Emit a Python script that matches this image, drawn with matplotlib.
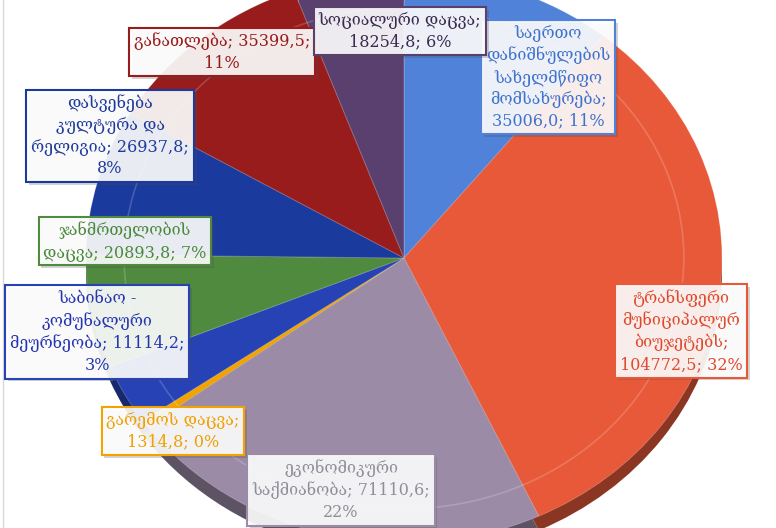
import numpy as np
import matplotlib.pyplot as plt
import matplotlib.patheffects as pe
from matplotlib.colors import to_rgb

plt.rcParams['font.family'] = ['DejaVu Serif', 'DejaVu Sans']

# მონაცემები (ათასი ლარი)
names = ['საერთო\nდანიშნულების\nსახელმწიფო\nმომსახურება;',
         'ტრანსფერი\nმუნიციპალურ\nბიუჯეტებს;',
         'ეკონომიკური\nსაქმიანობა;',
         'გარემოს დაცვა;',
         'საბინაო -\nკომუნალური\nმეურნეობა;',
         'ჯანმრთელობის\nდაცვა;',
         'დასვენება\nკულტურა და\nრელიგია;',
         'განათლება;',
         'სოციალური დაცვა;']
values = [35006.0, 104772.5, 71110.6, 1314.8, 11114.2, 20893.8, 26937.8, 35399.5, 18254.8]
# პროცენტები ისე, როგორც დიაგრამაზეა
pct_labels = ['11%', '32%', '22%', '0%', '3%', '7%', '8%', '11%', '6%']
colors = ['#4f82d8', '#e8593a', '#9c8ba7', '#f2a300', '#2642b4',
          '#4f8a3f', '#1b3a9e', '#981c1c', '#5a406e']
text_colors = ['#3f72cc', '#e04a2c', '#8f8f9a', '#f0a000', '#2535b0',
               '#4a8a3a', '#1f3a9a', '#9a1a1a', '#3a2a50']

# წარწერების ცენტრი (პიქსელებში) და ხაზებად დაშლა
label_pos = [(548, 77), (681, 331), (341, 490), (173, 431), (97, 332),
             (125, 241), (110, 136), (222, 52), (400, 31)]
label_fmt = ['{n}\n{v}; {p}', '{n}\n{v}; {p}', '{n} {v};\n{p}', '{n}\n{v}; {p}',
             '{n} {v};\n{p}', '{n} {v}; {p}', '{n} {v};\n{p}', '{n} {v};\n{p}',
             '{n}\n{v}; {p}']

W, H = 776, 528
cx, cy, rx, ry = 404, 258, 318, 285


def px(x, y):
    return (x - cx) / rx, (cy - y) / ry


fig = plt.figure(figsize=(W / 100, H / 100), dpi=100)
ax = fig.add_axes([0, 0, 1, 1])

# 3D გვერდი - მუქი ასლი ოდნავ ქვემოთ
dark = [tuple(c * 0.6 for c in to_rgb(col)) for col in colors]
ax.pie(values, colors=dark, startangle=90, counterclock=False,
       center=(0.0, -0.05), radius=1.0, wedgeprops=dict(linewidth=0))
wedges, _ = ax.pie(values, colors=colors, startangle=90, counterclock=False,
                   center=(0, 0), radius=1.0,
                   wedgeprops=dict(linewidth=0.6, edgecolor=(1, 1, 1, 0.25)))
for w in wedges:
    w.set_zorder(2)
ring = plt.Circle((0, 0), 0.88, fill=False, ec=(1, 1, 1, 0.18), lw=1.2, zorder=3)
ax.add_patch(ring)

for i, v in enumerate(values):
    vs = f'{v:.1f}'.replace('.', ',')
    txt = label_fmt[i].format(n=names[i], v=vs, p=pct_labels[i])
    x, y = px(*label_pos[i])
    t = ax.text(x, y, txt, ha='center', va='center', fontsize=11.5, color=text_colors[i],
                linespacing=1.35, zorder=5,
                bbox=dict(boxstyle='square,pad=0.3', fc=(1, 1, 1, 0.9), ec=colors[i], lw=1.5))
    t.get_bbox_patch().set_path_effects([pe.SimplePatchShadow(offset=(2, -2), alpha=0.25),
                                         pe.Normal()])

ax.set_aspect('auto')
ax.set_xlim(px(0, 0)[0], px(W, 0)[0])
ax.set_ylim(px(0, H)[1], px(0, 0)[1])
ax.axis('off')
ax.axvline(px(3, 0)[0], color='#d8d8d8', lw=1)

fig.savefig('out.png', dpi=100)
